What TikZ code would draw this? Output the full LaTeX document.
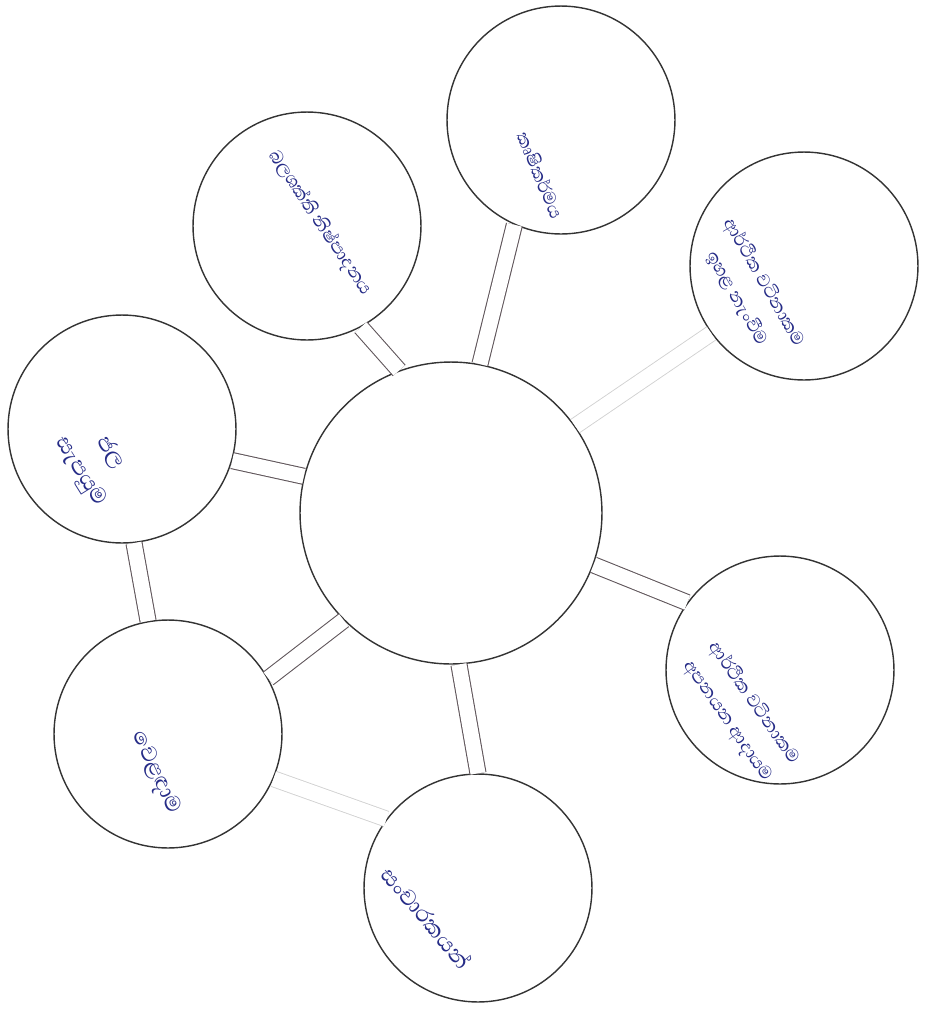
\documentclass[tikz,border=0pt]{standalone}
\usepackage{fontspec}
\newfontfamily\sinfont[Script=Sinhala]{Abhaya Libre}
\usetikzlibrary{positioning}
\definecolor{ink}{RGB}{38,44,135}
\definecolor{pencil}{RGB}{95,85,90}
\tikzset{
    hub/.style={circle, draw=black!80, line width=0.8pt, fill=white, minimum size=6.04cm, inner sep=0pt},
    bubble/.style={circle, draw=black!80, line width=0.8pt, fill=white, minimum size=4.56cm, inner sep=0pt},
    link/.style={draw=pencil, line width=0.6pt, double=white, double distance=0.3cm},
    faintlink/.style={draw=black!18, line width=0.5pt, double=white, double distance=0.3cm},
    note/.style={text=ink, align=center, font=\sinfont\fontsize{13}{18}\selectfont},
    bignote/.style={note, font=\sinfont\fontsize{16}{20}\selectfont},
}

\begin{document}
\begin{tikzpicture}[x=0.02cm, y=-0.02cm]
    \useasboundingbox (0,0) rectangle (925,1012);
    % circles
    \node[hub] (c) at (451,513) {};
    \node[bubble] (top) at (561,120) {};
    \node[bubble] (ul) at (307,226) {};
    \node[bubble] (tr) at (804,266) {};
    \node[bubble] (lft) at (122,429) {};
    \node[bubble] (ll) at (168,734) {};
    \node[bubble] (bot) at (478,888) {};
    \node[bubble] (rgt) at (780,670) {};
    % double links
    \draw[link] (c.79) -- (top.246);
    \draw[link] (c.110) -- (ul.298);
    \draw[faintlink] (c.35) -- (tr.216);
    \draw[link] (c.166) -- (lft.344);
    \draw[link] (c.225) -- (ll.29);
    \draw[link] (c.273) -- (bot.90);
    \draw[link] (c.340) -- (rgt.144);
    \draw[link] (lft.276) -- (ll.100);
    \draw[faintlink] (ll.337) -- (bot.143);
    % labels
    \node[note, rotate=-56] (ultxt) at (320,223) {බලශක්ති නිෂ්පාදනය};
    \node[note, rotate=-67] (toptxt) at (541,175) {කෘෂිකර්මය};
    \node[note, rotate=-60] (trtxt) at (751,290) {ආර්ථික වටිනාකම\\ඉහළ නැංවීම};
    \node[bignote, rotate=-58] (lfttxt) at (95,462) {ජල\\සැපයුම};
    \node[bignote, rotate=-65] (lltxt) at (155,773) {වෙළඳාම};
    \node[bignote, rotate=-50] (bottxt) at (427,917) {සංචාරකයන්};
    \node[note, rotate=-55] (rgttxt) at (741,712) {ආර්ථික වටිනාකම\\අපනයන ආදායම};
\end{tikzpicture}
\end{document}
